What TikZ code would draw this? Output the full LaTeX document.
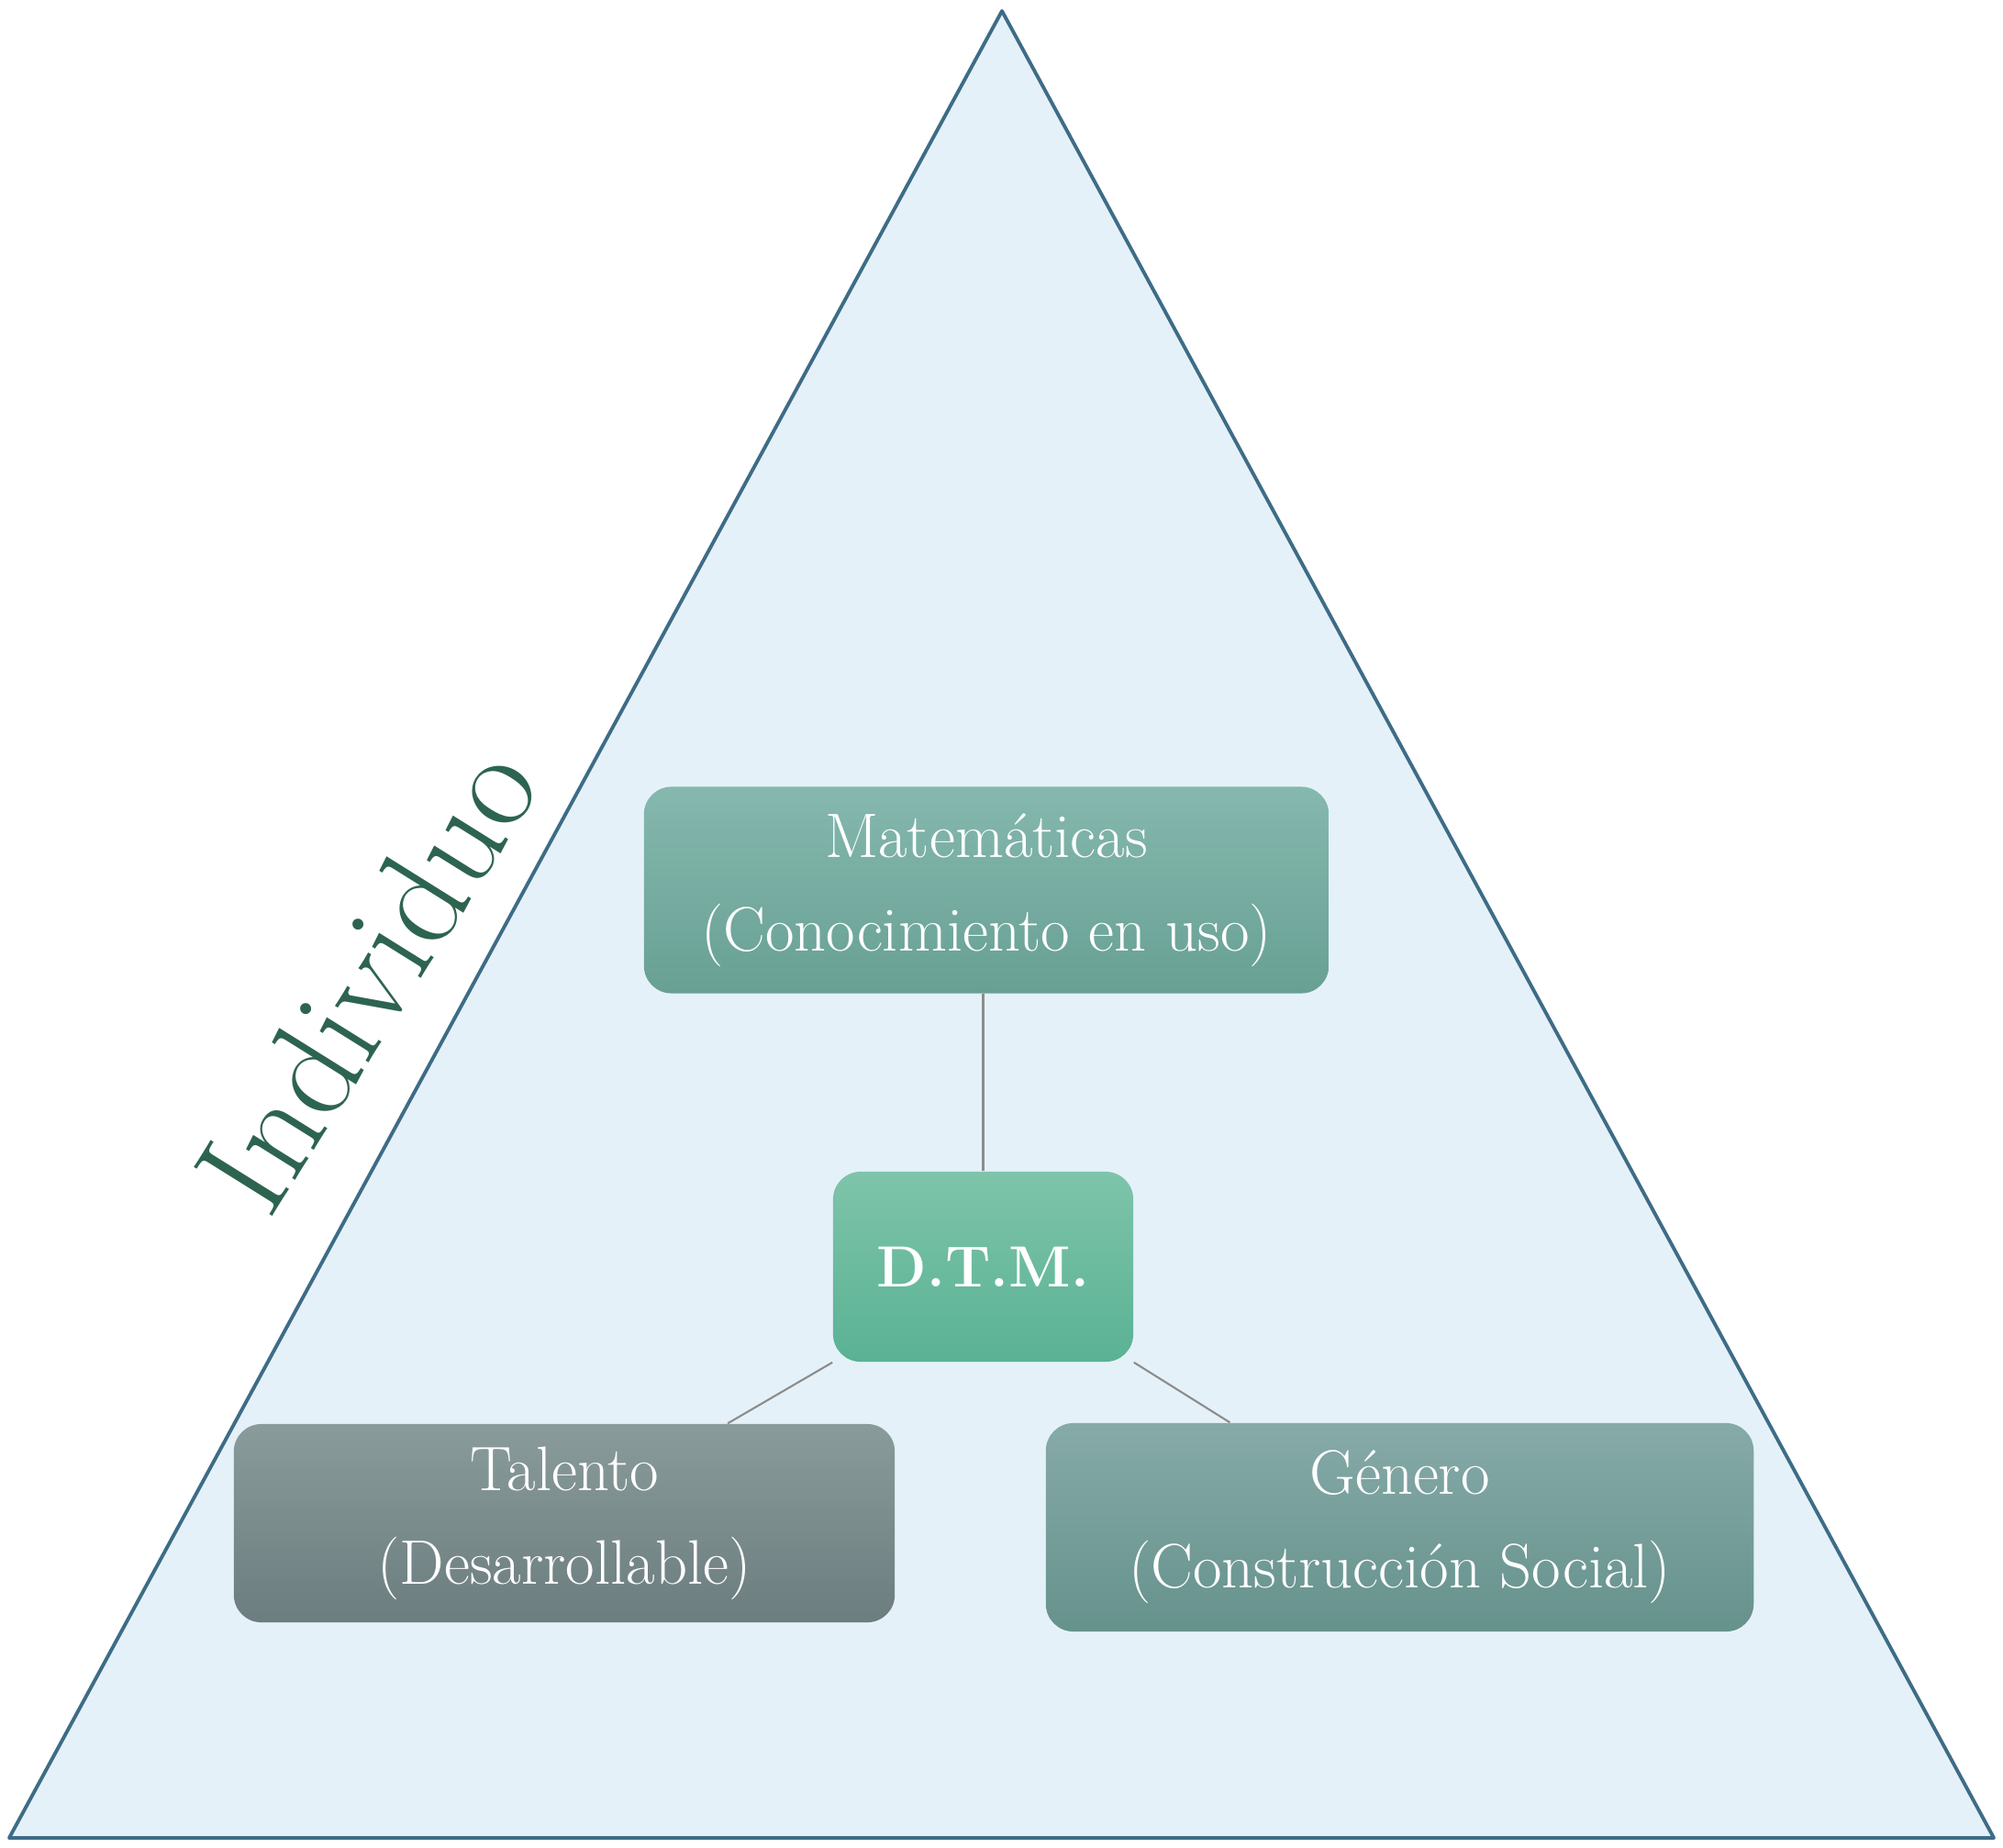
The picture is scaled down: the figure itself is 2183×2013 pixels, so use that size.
\documentclass[tikz,border=0pt]{standalone}
\definecolor{trifill}{RGB}{229,241,248}
\definecolor{triedge}{RGB}{62,108,135}
\definecolor{indiv}{RGB}{45,100,80}
\definecolor{conn}{RGB}{140,140,140}
\definecolor{matT}{RGB}{133,184,174}\definecolor{matB}{RGB}{104,160,148}
\definecolor{dtmT}{RGB}{126,196,170}\definecolor{dtmB}{RGB}{90,178,148}
\definecolor{talT}{RGB}{138,155,155}\definecolor{talB}{RGB}{108,125,127}
\definecolor{genT}{RGB}{134,170,168}\definecolor{genB}{RGB}{102,146,140}
\tikzset{
  box/.style={rectangle, rounded corners=0.3cm, shade, text=white, align=center,
    font=\fontsize{19.5}{29}\selectfont, inner sep=0pt},
  link/.style={draw=conn, line width=0.6pt}
}
\begin{document}
\begin{tikzpicture}[x=0.01cm,y=-0.01cm]
\useasboundingbox (0,0) rectangle (2183,2013);
% triangle
\draw[fill=trifill, draw=triedge, line width=1.1pt, line join=round] (10,2003) -- (1092,12) -- (2173,2003) -- cycle;
% label
\node[text=indiv, rotate=58, font=\fontsize{42}{44}\selectfont, inner sep=0pt] (ind) at (400,1066) {Individuo};
% boxes
\node[box, top color=matT, bottom color=matB, minimum width=7.46cm, minimum height=2.25cm] (mat) at (1075,970) {Matemáticas\\(Conocimiento en uso)};
\node[box, top color=dtmT, bottom color=dtmB, minimum width=3.27cm, minimum height=2.07cm, font=\fontsize{18}{28}\selectfont\bfseries] (dtm) at (1071.5,1380.5) {D.T.M.};
\node[box, top color=talT, bottom color=talB, minimum width=7.20cm, minimum height=2.16cm] (tal) at (615,1660) {Talento\\(Desarrollable)};
\node[box, top color=genT, bottom color=genB, minimum width=7.71cm, minimum height=2.27cm] (gen) at (1525.5,1664.5) {Género\\(Construcción Social)};
% connectors
\draw[link] (mat.south -| dtm.north) -- (dtm.north);
\draw[link] (dtm.south west) -- ([xshift=1.78cm]tal.north);
\draw[link] (dtm.south east) -- ([xshift=-1.85cm]gen.north);
\end{tikzpicture}
\end{document}
